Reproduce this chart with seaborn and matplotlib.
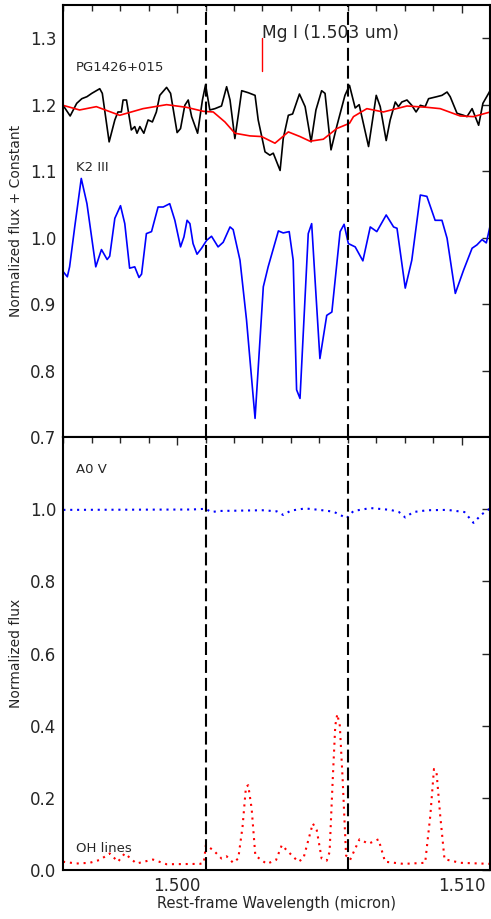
import matplotlib
matplotlib.use("Agg")
import matplotlib.pyplot as plt
import seaborn as sns
import numpy as np

# ---- data ----
# PG1426+015 observed spectrum (black)
pg_wl = [1.49599, 1.49624, 1.49647, 1.49665, 1.49683, 1.49700, 1.49728, 1.49737,
         1.49761, 1.49781, 1.49792, 1.49804, 1.49810, 1.49822, 1.49839, 1.49851,
         1.49859, 1.49869, 1.49883, 1.49898, 1.49913, 1.49927, 1.49939, 1.49963,
         1.49977, 1.50000, 1.50012, 1.50027, 1.50039, 1.50051, 1.50072, 1.50089,
         1.50100, 1.50109, 1.50115, 1.50133, 1.50156, 1.50174, 1.50186, 1.50203,
         1.50215, 1.50227, 1.50250, 1.50274, 1.50285, 1.50309, 1.50326, 1.50338,
         1.50350, 1.50362, 1.50373, 1.50391, 1.50406, 1.50430, 1.50450, 1.50471,
         1.50488, 1.50508, 1.50520, 1.50541, 1.50561, 1.50590, 1.50606, 1.50626,
         1.50640, 1.50673, 1.50700, 1.50714, 1.50735, 1.50749, 1.50767, 1.50778,
         1.50790, 1.50808, 1.50825, 1.50840, 1.50855, 1.50872, 1.50884, 1.50913,
         1.50931, 1.50949, 1.50960, 1.50984, 1.51007, 1.51019, 1.51037, 1.51060,
         1.51075, 1.51095, 1.51105]
pg_flux = [1.199, 1.183, 1.202, 1.209, 1.212, 1.217, 1.224, 1.217,
           1.144, 1.177, 1.189, 1.189, 1.207, 1.207, 1.162, 1.167,
           1.157, 1.167, 1.157, 1.177, 1.174, 1.189, 1.214, 1.226,
           1.217, 1.158, 1.164, 1.199, 1.207, 1.182, 1.157, 1.207,
           1.230, 1.207, 1.192, 1.194, 1.198, 1.227, 1.207, 1.149,
           1.184, 1.221, 1.218, 1.214, 1.177, 1.129, 1.124, 1.127,
           1.114, 1.101, 1.149, 1.184, 1.186, 1.216, 1.197, 1.144,
           1.192, 1.221, 1.217, 1.132, 1.167, 1.214, 1.229, 1.195,
           1.200, 1.137, 1.214, 1.197, 1.146, 1.177, 1.204, 1.197,
           1.204, 1.207, 1.199, 1.189, 1.199, 1.197, 1.209, 1.212,
           1.214, 1.219, 1.212, 1.187, 1.184, 1.182, 1.194, 1.169,
           1.202, 1.217, 1.225]

# smoothed spectrum (red)
sm_wl = [1.49599, 1.49657, 1.49716, 1.49798, 1.49880, 1.49963, 1.50033, 1.50092,
         1.50127, 1.50168, 1.50203, 1.50256, 1.50297, 1.50344, 1.50391, 1.50432,
         1.50467, 1.50514, 1.50561, 1.50606, 1.50620, 1.50667, 1.50725, 1.50808,
         1.50878, 1.50925, 1.50995, 1.51042, 1.51101]
sm_flux = [1.199, 1.192, 1.197, 1.184, 1.194, 1.200, 1.196, 1.190,
           1.189, 1.174, 1.157, 1.153, 1.152, 1.142, 1.159, 1.152,
           1.145, 1.148, 1.164, 1.172, 1.182, 1.194, 1.189, 1.198,
           1.196, 1.194, 1.183, 1.182, 1.189]

# K2 III template (blue)
k2_wl = [1.49599, 1.49614, 1.49622, 1.49640, 1.49663, 1.49683, 1.49714, 1.49734,
         1.49754, 1.49763, 1.49781, 1.49801, 1.49816, 1.49833, 1.49851, 1.49866,
         1.49875, 1.49892, 1.49910, 1.49933, 1.49951, 1.49974, 1.49992, 1.50012,
         1.50024, 1.50035, 1.50045, 1.50056, 1.50070, 1.50086, 1.50104, 1.50121,
         1.50144, 1.50162, 1.50186, 1.50197, 1.50221, 1.50244, 1.50274, 1.50303,
         1.50320, 1.50356, 1.50373, 1.50394, 1.50408, 1.50420, 1.50432, 1.50461,
         1.50473, 1.50485, 1.50502, 1.50526, 1.50544, 1.50573, 1.50587, 1.50602,
         1.50626, 1.50653, 1.50679, 1.50702, 1.50735, 1.50761, 1.50773, 1.50802,
         1.50825, 1.50855, 1.50878, 1.50907, 1.50931, 1.50949, 1.50978, 1.51007,
         1.51037, 1.51054, 1.51072, 1.51087, 1.51101]
k2_flux = [0.949, 0.941, 0.956, 1.016, 1.089, 1.051, 0.956, 0.982,
           0.967, 0.972, 1.029, 1.048, 1.021, 0.954, 0.956, 0.940,
           0.945, 1.006, 1.009, 1.046, 1.046, 1.051, 1.026, 0.986,
           1.001, 1.026, 1.021, 0.991, 0.975, 0.984, 0.996, 1.002,
           0.986, 0.993, 1.016, 1.012, 0.966, 0.876, 0.728, 0.926,
           0.956, 1.010, 1.007, 1.009, 0.966, 0.771, 0.758, 1.006,
           1.021, 0.936, 0.818, 0.883, 0.888, 1.009, 1.020, 0.991,
           0.986, 0.965, 1.016, 1.009, 1.034, 1.016, 1.014, 0.924,
           0.966, 1.064, 1.062, 1.026, 1.026, 0.999, 0.916, 0.951,
           0.984, 0.989, 0.997, 0.992, 1.019]

# A0 V telluric standard (blue dotted)
a0_wl = [1.4960, 1.5005, 1.5010, 1.5012, 1.5015, 1.5030, 1.5035, 1.50373,
         1.5040, 1.5045, 1.5050, 1.5055, 1.50596, 1.5062, 1.5068, 1.5075,
         1.5078, 1.50802, 1.5083, 1.5088, 1.5095, 1.5101, 1.51042, 1.5107, 1.5110]
a0_flux = [0.998, 0.999, 1.001, 0.992, 0.995, 0.997, 0.994, 0.984,
           0.996, 1.002, 0.998, 0.993, 0.975, 0.995, 1.003, 0.998,
           0.992, 0.977, 0.992, 0.997, 0.998, 0.992, 0.962, 0.985, 1.002]

# OH sky lines (red dotted)
oh_wl = [1.49599, 1.49646, 1.49693, 1.49728, 1.49763, 1.49792, 1.49816, 1.49857,
         1.49915, 1.49963, 1.50080, 1.50094, 1.50101, 1.50127, 1.50156, 1.50174,
         1.50197, 1.50215, 1.50230, 1.50242, 1.50250, 1.50262, 1.50275, 1.50315,
         1.50348, 1.50368, 1.50385, 1.50426, 1.50444, 1.50477, 1.50491, 1.50508,
         1.50526, 1.50536, 1.50547, 1.50556, 1.50563, 1.50572, 1.50582, 1.50594,
         1.50608, 1.50641, 1.50673, 1.50708, 1.50731, 1.50796, 1.50872, 1.50890,
         1.50903, 1.50912, 1.50925, 1.50940, 1.50995, 1.51101]
oh_flux = [0.023, 0.018, 0.020, 0.028, 0.046, 0.023, 0.046, 0.018,
           0.029, 0.016, 0.017, 0.020, 0.069, 0.055, 0.032, 0.038,
           0.020, 0.032, 0.120, 0.230, 0.235, 0.170, 0.040, 0.017,
           0.028, 0.069, 0.055, 0.023, 0.032, 0.129, 0.110, 0.032,
           0.026, 0.050, 0.250, 0.400, 0.432, 0.400, 0.250, 0.040,
           0.028, 0.085, 0.073, 0.085, 0.023, 0.017, 0.020, 0.150,
           0.280, 0.270, 0.150, 0.030, 0.020, 0.017]

marks = [1.501, 1.506]        # dashed vertical lines
mg_wl = 1.503                 # Mg I line

# ---- style ----
sns.set_style("white")
plt.rcParams['font.family'] = ['DejaVu Sans']

fig = plt.figure(figsize=(4.91, 9.19), dpi=100)
ax1 = fig.add_axes([0.129, 0.5245, 0.869, 0.4701])
ax2 = fig.add_axes([0.129, 0.0533, 0.869, 0.4712])

# top panel
sns.lineplot(x=pg_wl, y=pg_flux, ax=ax1, color='black', lw=1.2)
sns.lineplot(x=sm_wl, y=sm_flux, ax=ax1, color='red', lw=1.2)
sns.lineplot(x=k2_wl, y=k2_flux, ax=ax1, color='blue', lw=1.2)
ax1.plot([mg_wl, mg_wl], [1.25, 1.30], color='red', lw=1)
ax1.text(mg_wl, 1.30, 'Mg I (1.503 um)', fontsize=12.3)
ax1.text(1.49645, 1.25, 'PG1426+015', fontsize=9.5)
ax1.text(1.49645, 1.10, 'K2 III', fontsize=9.5)
ax1.set_ylim(0.7, 1.35)
ax1.set_yticks([0.7, 0.8, 0.9, 1.0, 1.1, 1.2, 1.3])
ax1.set_ylabel('Normalized flux + Constant', fontsize=10)

# bottom panel
sns.lineplot(x=a0_wl, y=a0_flux, ax=ax2, color='blue', lw=1.5, ls=(0, (1, 2.3)))
sns.lineplot(x=oh_wl, y=oh_flux, ax=ax2, color='red', lw=1.5, ls=(0, (1, 2.3)))
ax2.text(1.49645, 1.1, 'A0 V', fontsize=9.5)
ax2.text(1.49645, 0.05, 'OH lines', fontsize=9.5)
ax2.set_ylim(0, 1.2)
ax2.set_yticks([0.0, 0.2, 0.4, 0.6, 0.8, 1.0])
ax2.set_ylabel('Normalized flux', fontsize=10)
ax2.set_xlabel('Rest-frame Wavelength (micron)', fontsize=10.5, labelpad=1)

for ax in (ax1, ax2):
    for m in marks:
        ax.axvline(m, color='black', lw=1.5, ls=(0, (6.2, 2.4)))
    ax.set_xlim(1.496, 1.511)
    ax.set_xticks([1.500, 1.510])
    ax.set_xticks(np.arange(1.496, 1.5115, 0.001), minor=True)
    ax.tick_params(direction='in', which='both', top=True, right=True,
                   labelsize=12, pad=5)
    ax.tick_params(which='major', length=6, width=1)
    ax.tick_params(which='minor', length=4, width=1)
    ax.yaxis.set_label_coords(-0.095, 0.5)
    for s in ax.spines.values():
        s.set_linewidth(1.5)
        s.set_color('black')

ax1.set_xticklabels([])
ax2.set_xticklabels(['1.500', '1.510'])

fig.savefig('out.png', dpi=100)
